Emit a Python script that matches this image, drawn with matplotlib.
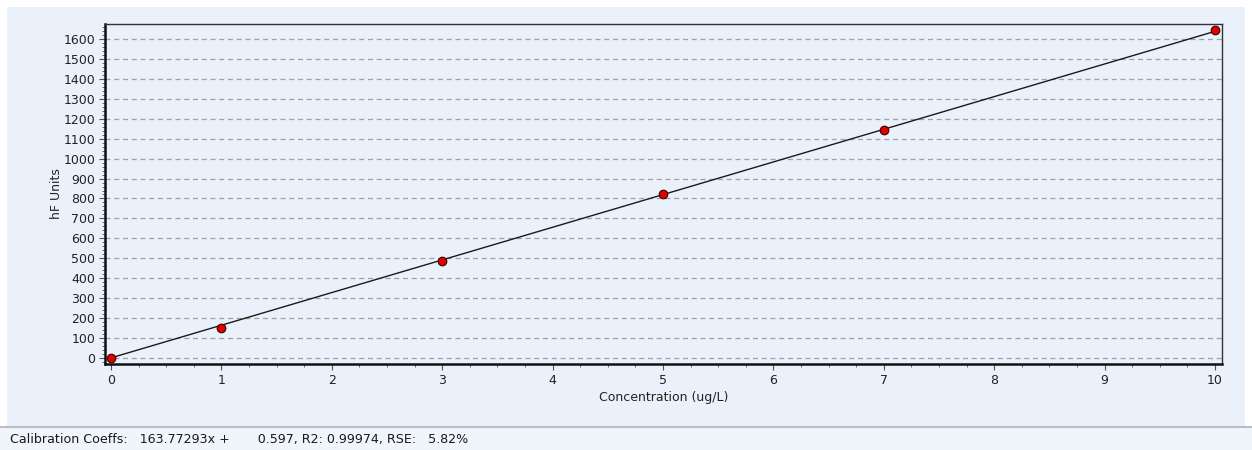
import matplotlib
matplotlib.use("Agg")
import matplotlib.pyplot as plt
from matplotlib.patches import Rectangle
from matplotlib.lines import Line2D
from matplotlib.ticker import MultipleLocator
import numpy as np

# Data
conc = [0, 1, 3, 5, 7, 10]
hf_units = [2, 152, 488, 822, 1143, 1647]
slope = 163.77293
intercept = 0.597
status_text = "Calibration Coeffs:   163.77293x +       0.597, R2: 0.99974, RSE:   5.82%"

W, H = 1252, 450
fig = plt.figure(figsize=(W / 100, H / 100), dpi=100)
fig.patch.set_facecolor("white")

panel_col = "#eaf1fa"
# panel background
fig.add_artist(Rectangle((7 / W, (H - 426) / H), (1245 - 7) / W, (426 - 7) / H,
                         transform=fig.transFigure, facecolor=panel_col, edgecolor="none", zorder=0))
# status bar
fig.add_artist(Rectangle((0, 0), 1, (H - 428) / H, transform=fig.transFigure,
                         facecolor="#f0f5fc", edgecolor="none", zorder=0))
fig.add_artist(Line2D([0, 1], [(H - 427) / H] * 2, transform=fig.transFigure,
                      color="#b9bec5", lw=1.5, zorder=1))
fig.text(10 / W, (H - 439) / H, status_text, fontsize=9.1, va="center", ha="left",
         color="#1a1a1a", family="DejaVu Sans")

ax = fig.add_axes([105 / W, (H - 364) / H, (1222 - 105) / W, (364 - 24) / H])
ax.set_facecolor(panel_col)

xs = np.array([0, 10])
ax.plot(xs, slope * xs + intercept, color="#1a1a1a", lw=1.0, zorder=3)
ax.plot(conc, hf_units, "o", color="#e00000", markeredgecolor="#3a0000",
        markeredgewidth=0.8, markersize=6.2, zorder=4)

ax.set_xlim(-0.054, 10.063)
ax.set_ylim(-30, 1675)
ax.xaxis.set_major_locator(MultipleLocator(1))
ax.xaxis.set_minor_locator(MultipleLocator(0.25))
ax.yaxis.set_major_locator(MultipleLocator(100))
ax.yaxis.set_minor_locator(MultipleLocator(20))

ax.grid(axis="y", which="major", color="#a0a0a0", linestyle=(0, (4, 3)), lw=0.9)
ax.set_axisbelow(True)

ax.tick_params(axis="both", which="major", labelsize=9, length=4, width=0.8,
               color="#555555", labelcolor="#222222", pad=3)
ax.tick_params(axis="both", which="minor", length=2, width=0.6, color="#555555")

for side in ["left", "bottom"]:
    ax.spines[side].set_linewidth(1.8)
    ax.spines[side].set_color("#111111")
for side in ["top", "right"]:
    ax.spines[side].set_linewidth(1.0)
    ax.spines[side].set_color("#333333")

ax.set_xlabel("Concentration (ug/L)", fontsize=9, labelpad=3, color="#222222")
ax.set_ylabel("hF Units", fontsize=9, labelpad=0, color="#222222")

fig.savefig("out.png", dpi=100, facecolor=fig.get_facecolor())
